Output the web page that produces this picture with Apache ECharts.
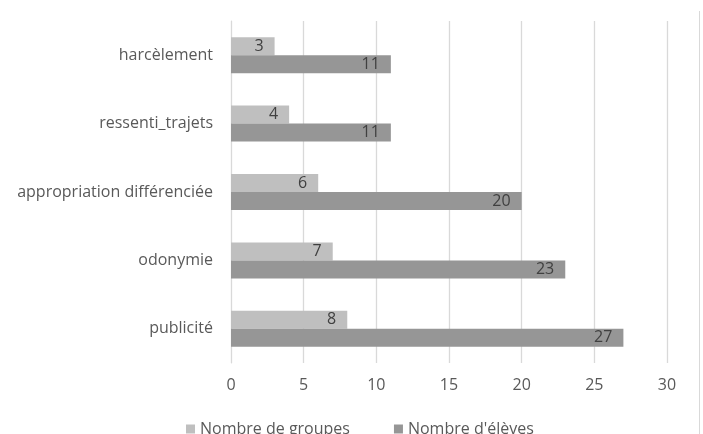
<!DOCTYPE html>
<html><head><meta charset="utf-8">
<script src="https://cdn.jsdelivr.net/npm/echarts@6/dist/echarts.min.js"></script>
<style>html,body{margin:0;padding:0;background:#fff}#c{width:703px;height:434px}</style>
</head><body><div id="c"></div>
<script>
const categories = ['harcèlement', 'ressenti_trajets', 'appropriation différenciée', 'odonymie', 'publicité'];
const groupes = [3, 4, 6, 7, 8];
const eleves = [11, 11, 20, 23, 27];
const seriesNames = ['Nombre de groupes', "Nombre d'élèves"];
const xTicks = { min: 0, max: 30, interval: 5 };

const chart = echarts.init(document.getElementById('c'));
const font = 'Open Sans';
chart.setOption({
  animation: false,
  textStyle: { fontFamily: font },
  graphic: [{ type: 'line', shape: { x1: 699.5, y1: 11, x2: 699.5, y2: 434 }, style: { stroke: '#d9d9d9', lineWidth: 1 } }],
  grid: { left: 231, right: 36, top: 21, bottom: 71, containLabel: false },
  legend: {
    bottom: -8, left: 181, itemWidth: 9, itemHeight: 9, itemGap: 44, icon: 'rect',
    textStyle: { color: '#595959', fontSize: 16, fontFamily: font },
    data: seriesNames
  },
  xAxis: {
    type: 'value', min: xTicks.min, max: xTicks.max, interval: xTicks.interval,
    axisLine: { show: false }, axisTick: { show: false },
    splitLine: { lineStyle: { color: '#d9d9d9', width: 1.3 } },
    axisLabel: { color: '#595959', fontSize: 16, margin: 14 }
  },
  yAxis: {
    type: 'category', data: categories, inverse: true,
    axisLine: { lineStyle: { color: '#d9d9d9' } }, axisTick: { show: false },
    axisLabel: { color: '#595959', fontSize: 16, margin: 18 }
  },
  series: [
    { name: seriesNames[0], type: 'bar', data: groupes, barWidth: 18, barGap: '0%',
      itemStyle: { color: '#bfbfbf' },
      label: { show: true, position: 'insideRight', distance: 11, color: '#404040', fontSize: 16 } },
    { name: seriesNames[1], type: 'bar', data: eleves, barWidth: 18, barGap: '0%',
      itemStyle: { color: '#969696' },
      label: { show: true, position: 'insideRight', distance: 11, color: '#404040', fontSize: 16 } }
  ]
});
</script></body></html>
